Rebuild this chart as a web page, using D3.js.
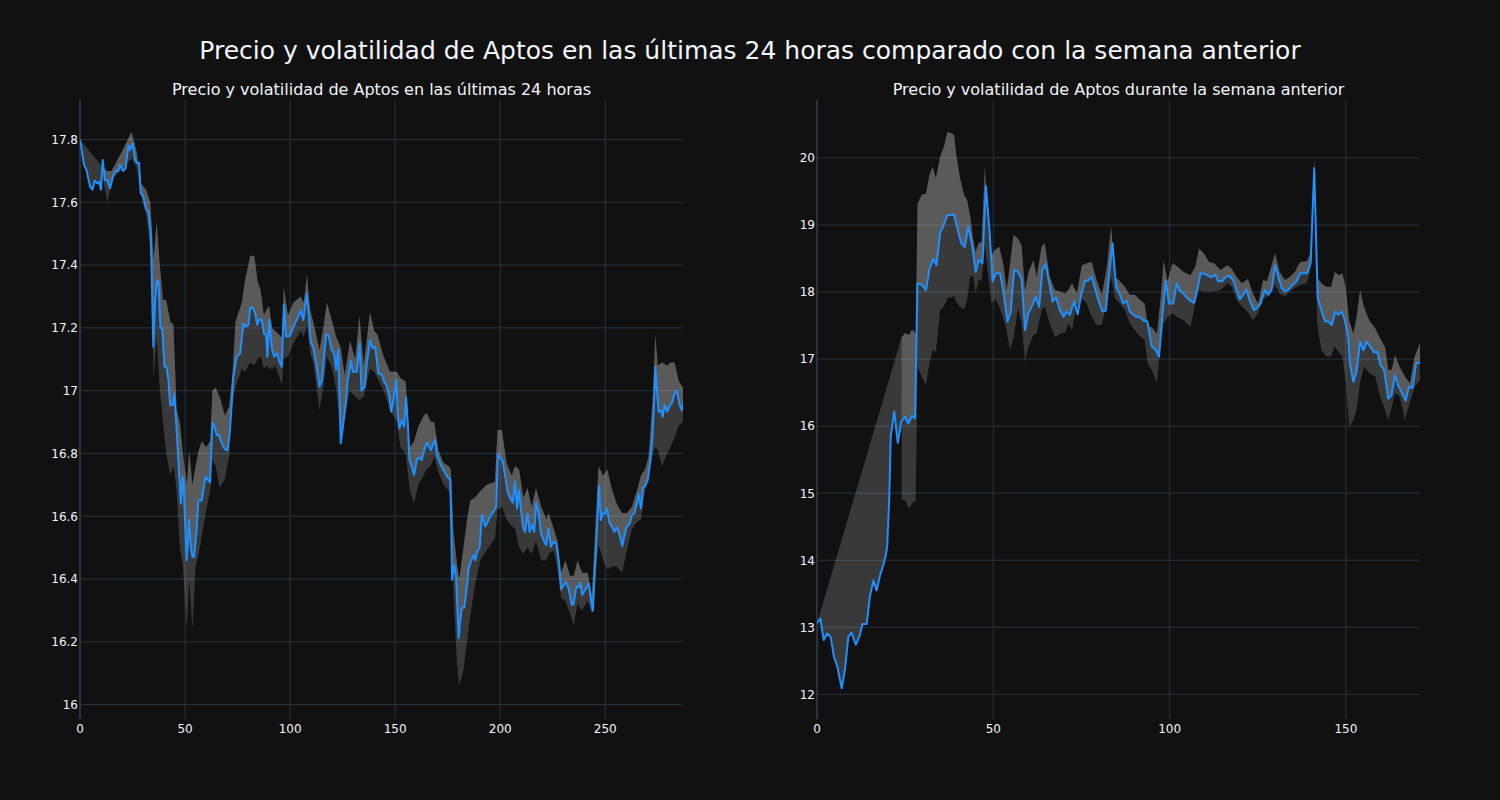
<!DOCTYPE html>
<html><head><meta charset="utf-8">
<script src="https://cdn.jsdelivr.net/npm/d3@7"></script>
<style>body{margin:0;background:#111111;}svg{display:block}</style>
</head><body>
<svg id="c" width="1500" height="800"></svg>
<script>
// ---------------- DATA ----------------
const mainTitle = "Precio y volatilidad de Aptos en las últimas 24 horas comparado con la semana anterior";
const leftTitle = "Precio y volatilidad de Aptos en las últimas 24 horas";
const rightTitle = "Precio y volatilidad de Aptos durante la semana anterior";

const leftXTicks = [0, 50, 100, 150, 200, 250];
const leftYTicks = [16, 16.2, 16.4, 16.6, 16.8, 17, 17.2, 17.4, 17.6, 17.8];
const rightXTicks = [0, 50, 100, 150];
const rightYTicks = [12, 13, 14, 15, 16, 17, 18, 19, 20];
const leftXRange = [0, 287];
const leftYRange = [15.954, 17.926];
const rightXRange = [0, 171];
const rightYRange = [11.632, 20.865];

// price last 24h: [index, price]
const leftPrice = [[0,17.80],[1.9,17.72],[3.2,17.70],[4.8,17.65],[5.9,17.64],[7.1,17.67],[8.2,17.66],[9.2,17.665],[10,17.64],[10.8,17.735],[11.9,17.67],[13,17.67],[14.3,17.645],[15.9,17.687],[17.1,17.70],[18.2,17.70],[19,17.72],[20.6,17.70],[21.7,17.708],[23,17.782],[23.8,17.766],[25.1,17.788],[26.2,17.735],[27.3,17.725],[28.1,17.726],[28.9,17.63],[30.2,17.618],[31.4,17.58],[32.5,17.57],[33.6,17.51],[34,17.41],[34.9,17.14],[35.7,17.28],[36.5,17.347],[37.3,17.352],[38.3,17.20],[39.1,17.20],[40.2,17.076],[41.2,17.075],[42.1,17.034],[42.9,16.954],[44.1,16.954],[44.9,16.99],[46,16.875],[48,16.64],[48.9,16.726],[49.4,16.683],[50.8,16.46],[51.9,16.588],[52.7,16.503],[53.5,16.471],[54.3,16.47],[55.5,16.556],[56.3,16.65],[57.9,16.65],[59.8,16.726],[61.9,16.707],[63,16.898],[63.8,16.89],[65.1,16.859],[66,16.86],[67.5,16.832],[69,16.813],[70.2,16.81],[71.4,16.875],[73,17.045],[74.6,17.108],[76.2,17.119],[77.8,17.214],[78.9,17.204],[80.2,17.21],[81,17.265],[82.2,17.264],[83.3,17.248],[84.4,17.21],[85.4,17.227],[86.5,17.226],[87.6,17.18],[88.6,17.18],[89.2,17.108],[90.1,17.225],[91.3,17.135],[92.4,17.108],[93.7,17.12],[94.9,17.092],[96,17.076],[97.1,17.273],[98.1,17.172],[100,17.175],[101.6,17.204],[103.3,17.227],[105.1,17.255],[106.3,17.225],[107.9,17.308],[108.7,17.258],[109.8,17.156],[111.1,17.135],[112.7,17.076],[114,17.013],[115.2,17.034],[117.1,17.18],[118.3,17.175],[119.8,17.13],[121,17.116],[121.9,17.066],[122.9,17.13],[123.8,16.917],[124.1,16.832],[125.4,16.90],[126.5,16.96],[127.3,17.03],[128.2,17.06],[128.9,17.097],[129.9,17.06],[131.7,17.06],[133,17.151],[134,17.0],[135.5,17.013],[136.5,17.087],[138.1,17.161],[139.2,17.135],[140.5,17.14],[142,17.055],[143.7,17.05],[144.8,17.028],[146,17.015],[147.3,16.98],[148.1,16.933],[149.2,16.97],[150.5,17.034],[151.3,16.92],[152,16.88],[153.2,16.906],[154.3,16.885],[155.2,16.98],[156,16.896],[156.8,16.779],[157.9,16.758],[159,16.731],[160.3,16.779],[161.4,16.787],[162.7,16.779],[163.8,16.81],[165.1,16.834],[167,16.81],[168,16.826],[169,16.845],[169.8,16.795],[171.4,16.768],[173,16.747],[174.3,16.731],[175.4,16.72],[176.2,16.72],[176.7,16.566],[177.1,16.397],[178.1,16.444],[179,16.407],[180.2,16.211],[181,16.27],[181.7,16.307],[182.9,16.31],[184.1,16.375],[185,16.434],[186,16.455],[187.3,16.476],[188.1,16.46],[189.2,16.49],[190.2,16.50],[191.3,16.604],[192.9,16.567],[194.4,16.588],[195.6,16.604],[196.8,16.614],[198.1,16.63],[198.9,16.798],[200,16.784],[201.1,16.777],[202.4,16.726],[203.5,16.678],[204.8,16.657],[206,16.643],[207,16.71],[208,16.625],[208.9,16.683],[209.9,16.62],[210.8,16.566],[211.8,16.55],[213,16.609],[214,16.55],[215.1,16.572],[216.2,16.55],[217.1,16.643],[218.3,16.609],[219.4,16.545],[220.6,16.524],[221.9,16.508],[223,16.561],[224.1,16.503],[225.4,16.519],[226.7,16.513],[227.8,16.46],[229,16.367],[230.2,16.38],[231.3,16.391],[232.5,16.37],[234.1,16.317],[234.9,16.32],[236.2,16.375],[237.3,16.374],[238.1,16.388],[239,16.349],[240,16.36],[241.3,16.375],[242.1,16.385],[243.2,16.333],[244.1,16.299],[245.7,16.514],[247,16.697],[247.9,16.588],[248.9,16.609],[250,16.609],[250.8,16.625],[252,16.579],[253.2,16.567],[254.3,16.55],[255.6,16.565],[256.8,16.54],[258.1,16.505],[259,16.535],[260.3,16.567],[261.6,16.575],[262.7,16.604],[263.8,16.609],[265.1,16.641],[265.9,16.671],[267,16.625],[268,16.692],[269,16.697],[270.2,16.715],[271.4,16.774],[272.4,16.848],[273.3,16.97],[273.8,17.076],[274.6,17.0],[275.4,16.933],[276.7,16.936],[277.3,16.917],[278.3,16.954],[279.5,16.933],[280.5,16.95],[281.7,16.96],[282.9,16.99],[284.1,17.0],[285.4,16.954],[286.5,16.938],[287,16.96]];

// volatility band last 24h: [index, upper, lower]
const leftBand = [[11,17.71,17.67],[13,17.70,17.60],[15,17.70,17.67],[19,17.75,17.70],[22,17.79,17.72],[24.5,17.825,17.74],[27,17.76,17.71],[29,17.66,17.62],[31.5,17.64,17.56],[33.5,17.60,17.45],[35,17.42,17.04],[36.5,17.54,17.17],[38,17.40,17.00],[39.5,17.29,16.90],[41,17.29,16.80],[43,17.22,16.73],[44.5,17.21,16.76],[46,16.94,16.68],[47.5,16.90,16.50],[49,16.80,16.44],[50.8,16.70,16.24],[52,16.81,16.40],[53.5,16.70,16.24],[55,16.76,16.44],[56.5,16.81,16.48],[58,16.84,16.54],[60,16.82,16.62],[62,16.84,16.68],[63,17.00,16.78],[64.5,17.01,16.76],[66.5,16.98,16.69],[69,16.92,16.72],[71,16.95,16.79],[72.5,17.05,16.96],[74,17.22,17.01],[77,17.28,17.07],[78.5,17.35,17.06],[81,17.43,17.09],[83,17.43,17.08],[84.5,17.35,17.10],[86,17.32,17.11],[87.5,17.24,17.07],[89,17.26,17.08],[90,17.27,17.07],[91.5,17.20,17.07],[93,17.19,17.08],[96,17.17,17.02],[97,17.33,17.10],[99,17.24,17.11],[101.5,17.28,17.15],[105,17.30,17.19],[106.5,17.28,17.17],[108,17.37,17.21],[109.5,17.26,17.12],[111,17.22,17.09],[114,17.13,16.94],[116,17.21,17.02],[117.5,17.28,17.11],[120,17.22,17.07],[122,17.17,17.00],[124,17.14,16.87],[126,17.05,16.92],[128.5,17.16,17.00],[131,17.10,16.98],[133,17.24,16.97],[135,17.08,16.98],[138,17.25,17.07],[140,17.19,17.06],[141.5,17.18,17.04],[144.5,17.11,17.00],[147.5,17.06,16.94],[150.8,17.06,16.90],[152.5,17.04,16.82],[155,17.03,16.80],[157,16.82,16.68],[159,16.84,16.64],[161,16.885,16.70],[163.5,16.92,16.73],[165,16.93,16.75],[167,16.90,16.76],[168.6,16.90,16.79],[170.6,16.81,16.74],[173,16.77,16.70],[175.5,16.76,16.68],[176.5,16.75,16.66],[177.8,16.55,16.35],[179.4,16.45,16.13],[180.5,16.40,16.06],[182.5,16.50,16.11],[184,16.58,16.19],[185.7,16.65,16.28],[188,16.66,16.38],[190.5,16.68,16.46],[193.5,16.70,16.49],[197.5,16.71,16.53],[198.7,16.875,16.62],[200.8,16.875,16.63],[203,16.77,16.59],[205.5,16.73,16.57],[207,16.76,16.56],[209,16.75,16.50],[211,16.66,16.48],[213,16.69,16.50],[215,16.63,16.48],[217,16.69,16.52],[219.5,16.63,16.46],[222,16.59,16.46],[223,16.61,16.48],[225.5,16.56,16.49],[227.3,16.52,16.43],[229,16.42,16.34],[231,16.46,16.33],[233.3,16.41,16.29],[235,16.41,16.25],[236.8,16.46,16.32],[239,16.42,16.30],[241.6,16.42,16.33],[243.6,16.35,16.29],[246.8,16.76,16.51],[249,16.73,16.46],[251,16.75,16.43],[253,16.69,16.44],[255.5,16.64,16.44],[258,16.61,16.42],[260.3,16.61,16.49],[262.7,16.63,16.56],[265,16.68,16.58],[267,16.73,16.59],[269,16.75,16.68],[270.6,16.79,16.72],[272.7,16.99,16.80],[273.8,17.18,16.82],[275,17.08,16.81],[277,17.09,16.76],[279.5,17.08,16.80],[281,17.09,16.82],[283,17.09,16.85],[285,17.03,16.89],[287,17.01,16.90]];

// price previous week: [index, price]
const rightPrice = [[0,13.06],[0.95,13.13],[1.9,12.81],[2.9,12.91],[3.9,12.85],[4.8,12.56],[5.8,12.41],[7,12.09],[7.9,12.36],[8.9,12.86],[9.8,12.92],[11,12.74],[12,12.86],[12.9,13.05],[14.1,13.05],[15,13.46],[16,13.70],[16.9,13.55],[17.9,13.78],[18.8,13.93],[19.4,14.05],[19.9,14.20],[20.5,14.95],[20.9,15.84],[21.9,16.22],[22.9,15.75],[23.9,16.07],[25,16.14],[25.9,16.04],[26.9,16.15],[27.8,16.12],[28.5,18.13],[29.7,18.11],[30.9,18.03],[31.9,18.35],[33,18.49],[33.9,18.40],[34.9,18.88],[35.8,18.98],[37,19.15],[37.9,19.15],[38.9,19.15],[39.9,18.93],[40.9,18.73],[41.9,18.67],[42.9,18.98],[43.9,18.73],[45,18.30],[45.9,18.48],[46.9,18.43],[47.9,19.58],[48.9,18.93],[49.8,18.16],[50.8,18.28],[51.9,18.28],[52.8,18.03],[54,17.56],[54.9,17.69],[55.9,18.33],[57,18.30],[58,18.20],[59,17.43],[59.9,17.68],[61.1,17.81],[62,17.93],[63,17.78],[63.9,18.33],[64.8,18.42],[65.9,18.13],[66.8,17.86],[67.8,17.92],[68.9,17.73],[69.9,17.63],[70.8,17.71],[71.7,17.66],[72.9,17.86],[73.9,17.67],[75,17.98],[76,18.17],[76.9,18.17],[77.9,18.23],[78.8,18.06],[79.8,17.88],[80.9,17.71],[81.9,17.72],[82.9,18.30],[83.8,18.73],[84.8,18.08],[85.9,17.96],[86.8,17.83],[87.8,17.87],[88.7,17.71],[89.7,17.66],[90.6,17.63],[91.6,17.62],[92.5,17.58],[93.7,17.56],[94.9,17.19],[96,17.14],[97,17.04],[97.9,17.63],[98.9,18.17],[99.8,17.83],[101,17.83],[102,18.13],[102.9,18.02],[104,17.97],[105,17.91],[105.9,17.87],[106.9,17.84],[107.8,18.03],[108.8,18.28],[110,18.27],[111,18.24],[111.9,18.22],[112.9,18.26],[113.8,18.16],[114.9,18.16],[115.9,18.23],[117,18.24],[118,18.18],[119,18.03],[119.9,17.89],[120.9,17.96],[121.8,18.04],[122.8,17.86],[123.9,17.73],[124.9,17.77],[125.8,17.83],[127,18.03],[128,17.96],[128.9,18.03],[129.9,18.40],[130.8,18.23],[131.8,18.06],[132.7,18.01],[133.7,18.04],[134.9,18.11],[136,18.16],[137,18.28],[137.9,18.28],[139,18.28],[140,18.43],[141,19.85],[142,17.91],[143,17.73],[144.1,17.56],[145,17.56],[146,17.51],[147,17.71],[147.8,17.66],[148.8,17.71],[149.7,17.58],[150.7,17.31],[151.1,16.94],[152.1,16.66],[153,16.81],[154,17.26],[154.9,17.13],[155.9,17.26],[157,17.18],[157.9,17.10],[158.9,17.11],[159.8,16.91],[160.8,16.84],[162,16.41],[162.9,16.46],[163.9,16.76],[164.8,16.61],[165.8,16.50],[166.9,16.38],[167.9,16.59],[168.9,16.57],[169.9,16.94],[171,16.95]];

// volatility band previous week: [index, upper, lower]
const rightBand = [[24,17.33,14.90],[25,17.39,14.90],[26,17.36,14.77],[27,17.44,14.85],[28,17.38,14.88],[28.5,19.32,16.89],[29.7,19.45,16.74],[30.9,19.47,16.61],[31.9,19.75,16.94],[32.8,19.87,17.14],[33.7,19.70,17.11],[34.9,20.02,17.73],[36,20.17,17.78],[37,20.39,17.91],[38.2,20.37,17.92],[38.9,20.34,17.94],[39.5,20.05,17.85],[40.5,19.72,17.78],[41.7,19.45,17.74],[42.6,19.37,17.88],[43.5,19.12,18.25],[44.3,18.78,18.23],[45,18.60,17.98],[45.8,18.73,18.18],[46.7,18.75,18.17],[47.6,19.87,18.68],[48.6,19.05,18.23],[49.5,18.55,17.83],[50.5,18.63,17.90],[51.7,18.68,17.78],[52.9,18.40,17.60],[53.8,18.03,17.43],[54.7,18.40,17.14],[55.7,18.85,17.30],[57,18.80,17.76],[58,18.70,17.55],[59,18.03,16.96],[60,18.30,17.19],[61.4,18.48,17.36],[62.3,18.23,17.38],[63.7,18.68,17.73],[64.6,18.73,17.78],[66,18.23,17.53],[67.5,18.03,17.33],[69,18.01,17.38],[70.4,17.98,17.40],[71.3,18.03,17.53],[72.3,18.13,17.43],[73.7,17.98,17.83],[75.1,18.40,17.91],[76.5,18.43,17.83],[77.9,18.45,17.63],[79.3,18.18,17.51],[80.8,17.96,17.51],[82.2,18.38,17.88],[83.4,18.98,18.23],[84.5,18.23,17.91],[85.9,18.16,17.83],[87.3,18.08,17.73],[88.7,17.96,17.53],[90.1,17.96,17.43],[91.5,17.89,17.35],[92.9,17.83,17.28],[93.8,17.51,16.94],[95.2,17.46,16.80],[96.4,17.38,16.64],[97.5,17.93,17.24],[98.3,18.48,17.53],[99.4,18.16,17.63],[100.8,18.43,17.68],[102.2,18.38,17.63],[104,18.30,17.58],[105.9,18.25,17.48],[107.3,18.38,17.83],[108.3,18.65,18.03],[109.7,18.58,18.01],[111.2,18.45,18.01],[112.6,18.43,18.01],[114.5,18.33,18.03],[116.4,18.40,18.13],[117.6,18.35,18.08],[119,18.23,17.88],[120.5,18.13,17.78],[122.2,18.20,17.70],[123.6,17.98,17.58],[125.1,17.83,17.68],[126.5,18.18,17.90],[127.6,18.16,17.93],[129.9,18.58,18.10],[131.2,18.30,17.98],[132.7,18.18,17.93],[134.1,18.23,18.01],[135.5,18.30,18.06],[137,18.45,18.11],[138.9,18.46,18.13],[139.9,18.58,18.33],[141,20.00,19.70],[141.8,18.23,17.53],[143,18.13,17.14],[144.4,18.08,17.04],[145.8,18.08,17.04],[146.8,18.30,17.19],[148,18.25,17.10],[149,18.28,17.04],[149.9,18.08,16.69],[150.9,17.58,15.99],[152.1,17.38,16.09],[153,17.63,16.24],[154,18.03,16.64],[155.1,17.78,16.89],[156.6,17.58,16.79],[158.3,17.46,16.74],[159.7,17.31,16.44],[161.1,17.18,16.24],[162,16.84,16.09],[163,16.84,16.29],[163.9,17.06,16.49],[165.3,16.88,16.44],[166.7,16.74,16.09],[168.1,16.64,16.34],[169.5,17.04,16.59],[171,17.24,16.69]];

// ---------------- DRAWING ----------------
const W = 1500, H = 800;
const PLOT_TOP = 100, PLOT_BOTTOM = 719;
const FONT = "'DejaVu Sans', sans-serif";
const TEXT = "#f2f5fa", GRID = "#283442", LINE = "#1e90ff";
const BAND_FILL = "rgba(255,255,255,0.17)";

const svg = d3.select("#c");
svg.append("rect").attr("width", W).attr("height", H).attr("fill", "#111111");

svg.append("text").attr("x", 750).attr("y", 59).attr("text-anchor", "middle")
  .attr("font-family", FONT).attr("font-size", 25).attr("fill", TEXT).text(mainTitle);

function panel(id, left, right, xRange, yRange, xTicks, yTicks, price, band, title) {
  const x = d3.scaleLinear().domain(xRange).range([left, right]);
  const y = d3.scaleLinear().domain(yRange).range([PLOT_BOTTOM, PLOT_TOP]);
  const g = svg.append("g");

  g.append("clipPath").attr("id", "clip" + id).append("rect")
    .attr("x", left).attr("y", PLOT_TOP).attr("width", right - left).attr("height", PLOT_BOTTOM - PLOT_TOP);

  // grid
  g.selectAll(".gy").data(yTicks).enter().append("line")
    .attr("x1", left).attr("x2", right).attr("y1", d => y(d)).attr("y2", d => y(d))
    .attr("stroke", GRID).attr("stroke-width", 1);
  g.selectAll(".gx").data(xTicks.filter(d => d !== 0)).enter().append("line")
    .attr("x1", d => x(d)).attr("x2", d => x(d)).attr("y1", PLOT_TOP).attr("y2", PLOT_BOTTOM)
    .attr("stroke", GRID).attr("stroke-width", 1);
  // zero line
  g.append("line").attr("x1", x(0)).attr("x2", x(0)).attr("y1", PLOT_TOP).attr("y2", PLOT_BOTTOM)
    .attr("stroke", GRID).attr("stroke-width", 2);

  const pl = d3.line().x(d => x(d[0])).y(d => y(d[1]));
  const data = g.append("g").attr("clip-path", `url(#clip${id})`);

  // fill: upper band to price (tonexty)
  const f1 = band.map(d => [d[0], d[1]]).concat(price.slice().reverse());
  data.append("path").attr("d", pl(f1) + "Z").attr("fill", BAND_FILL).attr("stroke", "none");
  // fill: lower band to upper band (tonexty)
  const f2 = band.map(d => [d[0], d[2]]).concat(band.slice().reverse().map(d => [d[0], d[1]]));
  data.append("path").attr("d", pl(f2) + "Z").attr("fill", BAND_FILL).attr("stroke", "none");
  // price line
  data.append("path").attr("d", pl(price)).attr("fill", "none")
    .attr("stroke", LINE).attr("stroke-width", 2).attr("stroke-linejoin", "round");

  // tick labels
  const fmt = d3.format("~g");
  g.selectAll(".ty").data(yTicks).enter().append("text")
    .attr("x", left - 2).attr("y", d => y(d)).attr("dy", "0.36em")
    .attr("text-anchor", "end").attr("font-family", FONT).attr("font-size", 12)
    .attr("fill", TEXT).text(d => fmt(d));
  g.selectAll(".tx").data(xTicks).enter().append("text")
    .attr("x", d => x(d)).attr("y", 733)
    .attr("text-anchor", "middle").attr("font-family", FONT).attr("font-size", 12)
    .attr("fill", TEXT).text(d => fmt(d));

  g.append("text").attr("x", (left + right) / 2).attr("y", 95).attr("text-anchor", "middle")
    .attr("font-family", FONT).attr("font-size", 16).attr("fill", TEXT).text(title);
}

panel("L", 80, 683, leftXRange, leftYRange, leftXTicks, leftYTicks, leftPrice, leftBand, leftTitle);
panel("R", 817, 1420, rightXRange, rightYRange, rightXTicks, rightYTicks, rightPrice, rightBand, rightTitle);
</script>
</body></html>
